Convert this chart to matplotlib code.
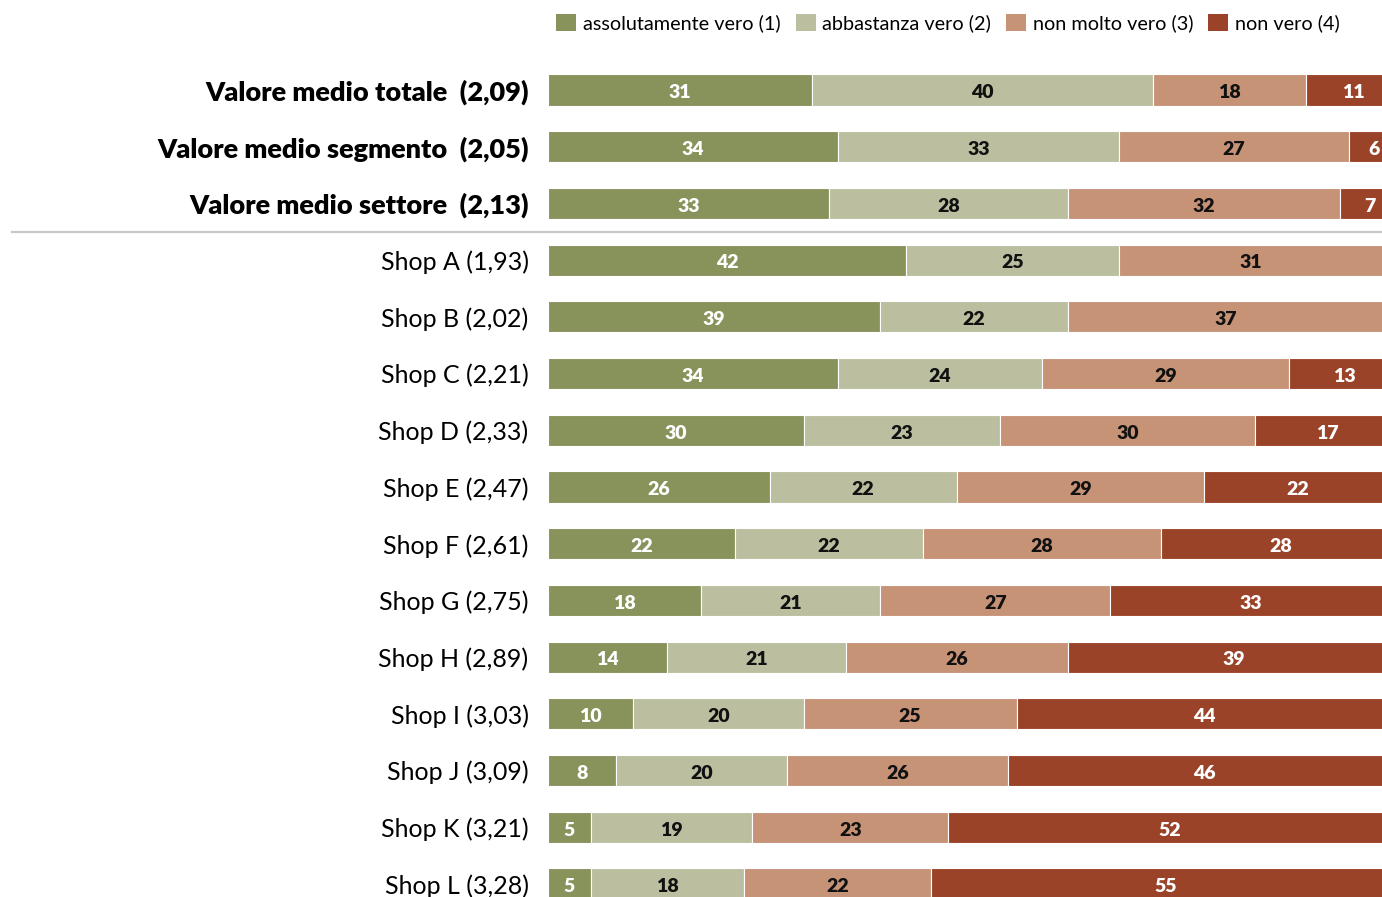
import matplotlib
matplotlib.use('Agg')
import matplotlib.pyplot as plt
import matplotlib.transforms as mtransforms
from matplotlib.patches import Patch
import numpy as np

plt.rcParams['font.family'] = ['Lato', 'DejaVu Sans']

labels = ['Valore medio totale  (2,09)', 'Valore medio segmento  (2,05)', 'Valore medio settore  (2,13)',
          'Shop A (1,93)', 'Shop B (2,02)', 'Shop C (2,21)', 'Shop D (2,33)', 'Shop E (2,47)',
          'Shop F (2,61)', 'Shop G (2,75)', 'Shop H (2,89)', 'Shop I (3,03)', 'Shop J (3,09)',
          'Shop K (3,21)', 'Shop L (3,28)']
assolutamente = [31, 34, 33, 42, 39, 34, 30, 26, 22, 18, 14, 10, 8, 5, 5]
abbastanza = [40, 33, 28, 25, 22, 24, 23, 22, 22, 21, 21, 20, 20, 19, 18]
non_molto = [18, 27, 32, 31, 37, 29, 30, 29, 28, 27, 26, 25, 26, 23, 22]
non_vero = [11, 6, 7, 2, 2, 13, 17, 22, 28, 33, 39, 44, 46, 52, 55]

series = [assolutamente, abbastanza, non_molto, non_vero]
names = ['assolutamente vero (1)', 'abbastanza vero (2)', 'non molto vero (3)', 'non vero (4)']
colors = ['#88935B', '#BBBF9F', '#C79377', '#9A4328']
text_colors = ['white', '#111111', '#111111', 'white']

W, H = 1382, 897
fig = plt.figure(figsize=(W / 100, H / 100), dpi=100)
ax = fig.add_axes([548 / W, 0, 852 / W, 1])

y = np.arange(len(labels))
left = np.zeros(len(labels))
for vals, col, tcol in zip(series, colors, text_colors):
    vals = np.array(vals, dtype=float)
    ax.barh(y, vals, left=left, height=0.55, color=col, edgecolor='white', linewidth=0.8)
    for yi, (l, v) in enumerate(zip(left, vals)):
        cx = l + v / 2
        if cx < 99:
            ax.text(cx, yi + 0.05, str(int(v)), ha='center', va='center', color=tcol,
                    fontsize=14, fontweight='heavy')
    left += vals

ax.set_xlim(0, 100)
ax.set_ylim(14 + 13 / 56.71, -90 / 56.71)
ax.set_yticks(y)
ax.set_yticklabels(labels, fontsize=18)
for i, t in enumerate(ax.get_yticklabels()):
    if i < 3:
        t.set_fontweight('heavy')
        t.set_fontsize(19.5)
ax.tick_params(axis='y', length=0, pad=14)
ax.set_xticks([])
for s in ax.spines.values():
    s.set_visible(False)

# separator between averages and shops
trans = mtransforms.blended_transform_factory(fig.transFigure, ax.transData)
ax.plot([12 / W, 1], [2.5, 2.5], color='#C8C8C8', linewidth=1.6, transform=trans, clip_on=False)

handles = [Patch(facecolor=c, edgecolor='none') for c in colors]
fig.legend(handles, names, loc='center right', bbox_to_anchor=(1340 / W, 1 - 23 / H),
           ncol=4, frameon=False, fontsize=14.3, handlelength=1.0, handleheight=1.0,
           handletextpad=0.35, columnspacing=0.75, borderpad=0, borderaxespad=0)

fig.savefig('out.png', dpi=100)
